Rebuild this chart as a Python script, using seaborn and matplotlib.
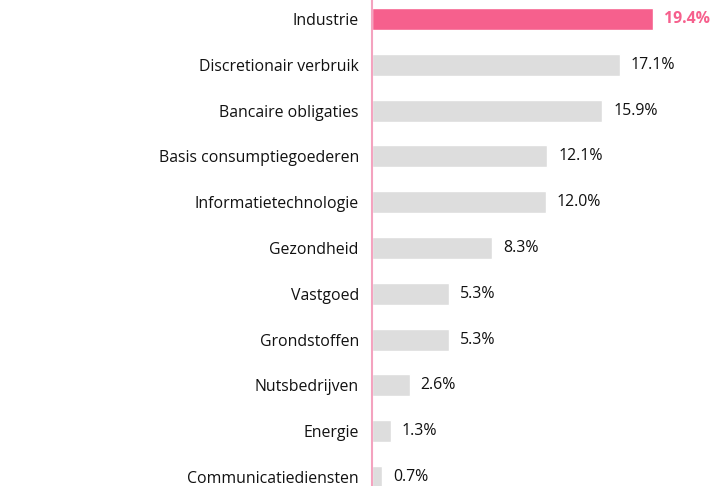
import matplotlib
matplotlib.use("Agg")
import matplotlib.pyplot as plt
import pandas as pd
import seaborn as sns

#%% data

sectors = ['Industrie', 'Discretionair verbruik', 'Bancaire obligaties',
           'Basis consumptiegoederen', 'Informatietechnologie', 'Gezondheid',
           'Vastgoed', 'Grondstoffen', 'Nutsbedrijven', 'Energie',
           'Communicatiediensten']
weights = [19.4, 17.1, 15.9, 12.1, 12.0, 8.3, 5.3, 5.3, 2.6, 1.3, 0.7]

df = pd.DataFrame({'sector': sectors, 'weight': weights})

pink = '#F6608D'
grey = '#DDDDDD'

#%% plot

sns.set_style("white")
plt.rcParams['font.family'] = ['Open Sans', 'DejaVu Sans']

fig = plt.figure(figsize=(7.11, 4.86), dpi=100)
ax = fig.add_axes([372 / 711, 0, 339 / 711, 1])

palette = [pink] + [grey] * (len(sectors) - 1)
sns.barplot(data=df, x='weight', y='sector', hue='sector', palette=palette,
            legend=False, width=0.48, ax=ax, saturation=1)

ax.set_xlim(0, 339 / 14.48)
ax.set_ylim(10.197, -0.415)

for i, v in enumerate(weights):
    first = i == 0
    ax.text(v + 0.75, i, f'{v:.1f}%', va='center', ha='left', fontsize=11.4,
            color=pink if first else '#111111',
            fontweight='bold' if first else 'normal')

ax.set_xlabel('')
ax.set_ylabel('')
ax.set_xticks([])
ax.tick_params(axis='y', length=0, pad=9.5, labelsize=11.4, labelcolor='#111111')
for s in ['top', 'right', 'bottom']:
    ax.spines[s].set_visible(False)
ax.spines['left'].set_color('#F4A3BF')
ax.spines['left'].set_linewidth(1.5)

fig.savefig('out.png', dpi=100)
